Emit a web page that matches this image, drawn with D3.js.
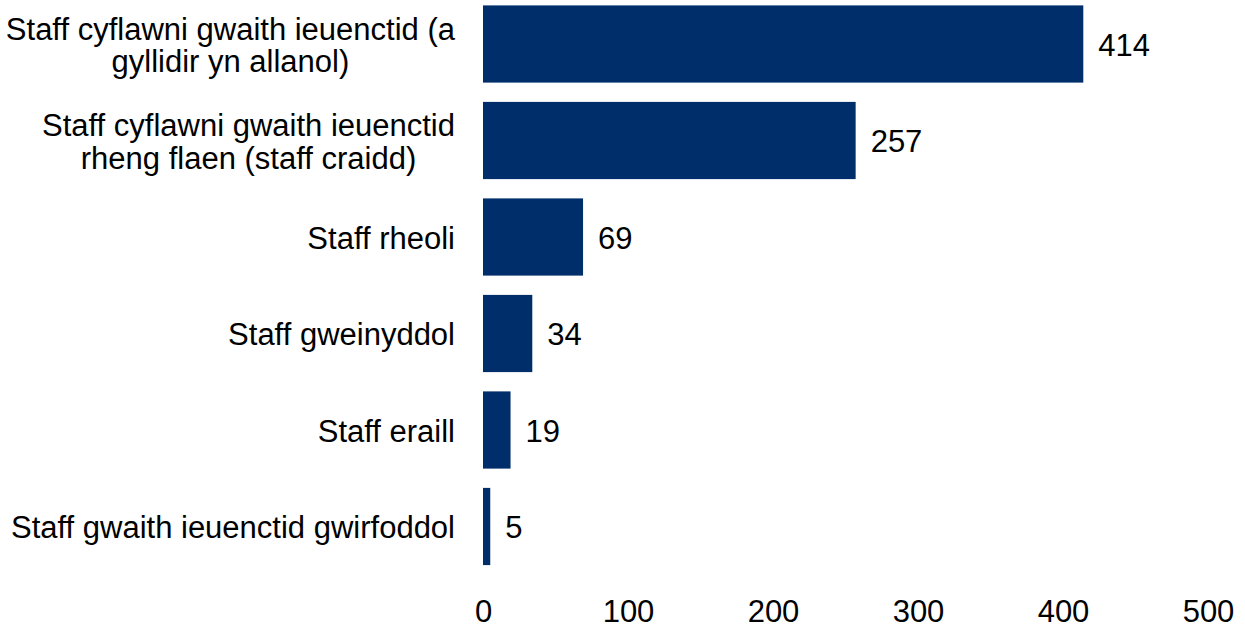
<!doctype html>
<html lang="cy">
<head>
<meta charset="utf-8">
<title>Staff</title>
<script src="https://d3js.org/d3.v7.min.js"></script>
<style>
  body { margin: 0; background: #fff; }
  svg text { font-family: "Liberation Sans", Arial, sans-serif; fill: #000; font-size: 31px; }
</style>
</head>
<body>
<svg id="chart"></svg>
<script>
// categories, one entry per bar (lines of the wrapped label)
var categories = [
  ["Staff cyflawni gwaith ieuenctid (a", "gyllidir yn allanol)"],
  ["Staff cyflawni gwaith ieuenctid", "rheng flaen (staff craidd)"],
  ["Staff rheoli"],
  ["Staff gweinyddol"],
  ["Staff eraill"],
  ["Staff gwaith ieuenctid gwirfoddol"]
];
var values = [414, 257, 69, 34, 19, 5];
var xTicks = [0, 100, 200, 300, 400, 500];

var width = 1245, height = 628;
var left = 483, right = 1208;

var svg = d3.select("#chart").attr("width", width).attr("height", height);

var x = d3.scaleLinear().domain([0, 500]).range([left, right]);
var y = d3.scaleBand().domain(d3.range(values.length))
  .range([-4.25, 574.75]).paddingInner(0.2).paddingOuter(0.1);

svg.selectAll("rect.bar")
  .data(values)
  .enter().append("rect")
  .attr("class", "bar")
  .attr("x", x(0))
  .attr("y", function(d, i) { return y(i); })
  .attr("width", function(d) { return x(d) - x(0); })
  .attr("height", y.bandwidth())
  .attr("fill", "#002e6b");

// value labels
svg.selectAll("text.val")
  .data(values)
  .enter().append("text")
  .attr("class", "val")
  .attr("x", function(d) { return x(d) + 15; })
  .attr("y", function(d, i) { return y(i) + y.bandwidth() / 2 + 1; })
  .attr("dy", "0.35em")
  .text(function(d) { return d; });

// category labels: centred lines, block right-aligned next to the bars
var lineH = 32.5;
var cat = svg.selectAll("text.cat")
  .data(categories)
  .enter().append("text")
  .attr("class", "cat")
  .attr("text-anchor", "middle");
cat.selectAll("tspan")
  .data(function(d) { return d.map(function(t, j) { return { t: t, j: j, n: d.length }; }); })
  .enter().append("tspan")
  .attr("x", 0)
  .attr("y", function(d) { return (d.j - (d.n - 1) / 2) * lineH; })
  .attr("dy", "0.35em")
  .text(function(d) { return d.t; });
cat.attr("transform", function(d, i) {
  var w = d3.max(d3.select(this).selectAll("tspan").nodes(), function(n) { return n.getComputedTextLength(); });
  return "translate(" + (left - 28 - w / 2) + "," + (y(i) + y.bandwidth() / 2 + 1) + ")";
});

// x axis, labels only
var ax = svg.append("g")
  .attr("transform", "translate(0,600)")
  .call(d3.axisBottom(x).tickValues(xTicks).tickSize(0).tickPadding(0));
ax.select(".domain").remove();
ax.selectAll("text")
  .attr("dy", "0.35em")
  .attr("y", 11)
  .style("font-size", "31px")
  .style("font-family", "'Liberation Sans', Arial, sans-serif")
  .attr("fill", "#000");
</script>
</body>
</html>
